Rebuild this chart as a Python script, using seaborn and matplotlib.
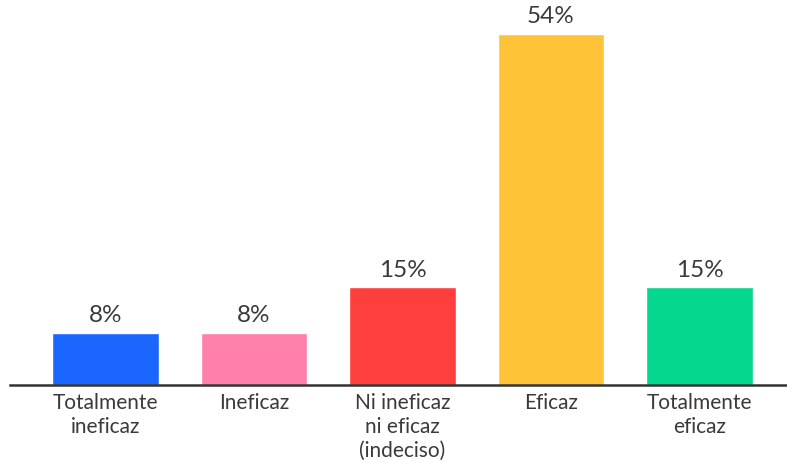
import pandas as pd
import seaborn as sns
from matplotlib import pyplot as plt

## Chart data
categories = ['Totalmente\nineficaz', 'Ineficaz', 'Ni ineficaz\nni eficaz\n(indeciso)', 'Eficaz', 'Totalmente\neficaz']
values = [8, 8, 15, 54, 15]
bar_colors = ['#1B66FF', '#FF80AB', '#FF3F3D', '#FFC337', '#06D78F']

df = pd.DataFrame({'Categoria': categories, 'Porcentaje': values})

sns.set_theme(style='white')
plt.rcParams['font.family'] = ['Lato', 'DejaVu Sans']

fig = plt.figure(figsize=(7.87, 4.63), dpi=100)
ax = fig.add_axes([10 / 787, 78 / 463, 1 - 10 / 787, 385 / 463])

sns.barplot(data=df, x='Categoria', y='Porcentaje', hue='Categoria', palette=bar_colors,
            width=0.72, legend=False, saturation=1, ax=ax)

## Percent labels above each bar
for i, v in enumerate(values):
    ax.text(i, v + 1.0, f'{v}%', ha='center', va='bottom', fontsize=17.5, color='#3a3a3a')

ax.set_xlim(-0.643, 4.589)
ax.set_ylim(0, 59.2)
ax.set_xlabel('')
ax.set_ylabel('')
ax.set_yticks([])
for side in ['top', 'right', 'left']:
    ax.spines[side].set_visible(False)
ax.spines['bottom'].set_color('#333333')
ax.spines['bottom'].set_linewidth(1.8)
ax.tick_params(axis='x', length=0, pad=6, labelsize=15, labelcolor='#3a3a3a')
for lbl in ax.get_xticklabels():
    lbl.set_linespacing(1.22)

fig.savefig('out.png', dpi=100, facecolor='white')
